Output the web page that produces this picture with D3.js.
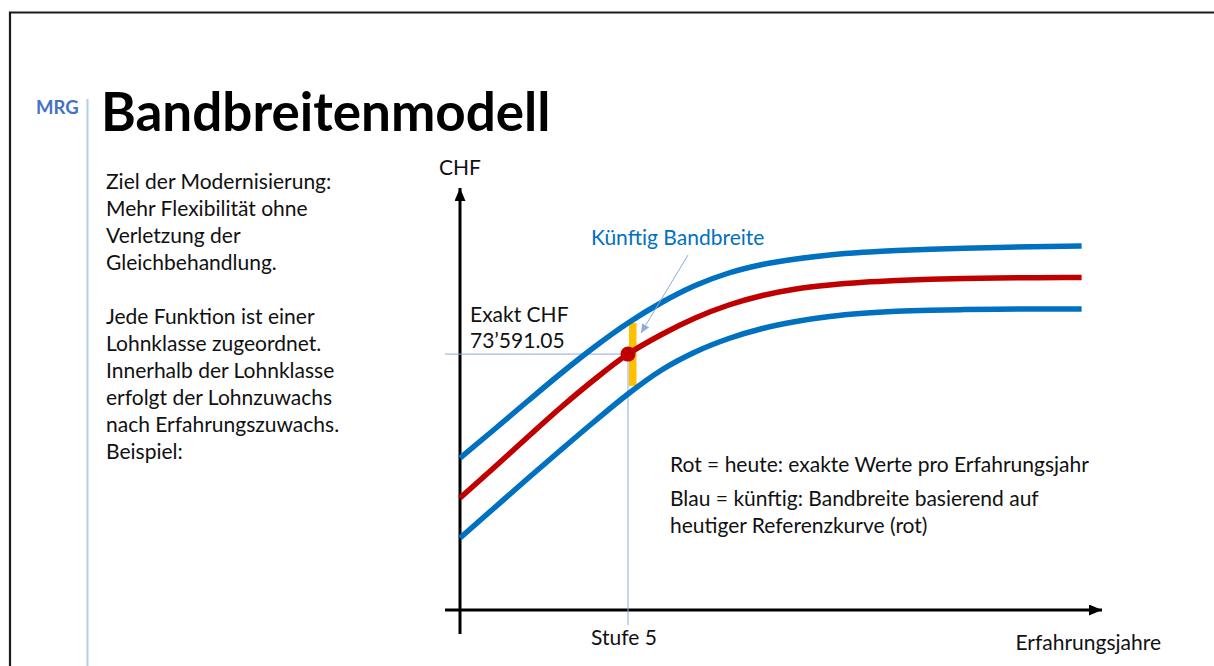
<!DOCTYPE html>
<html lang="de">
<head>
<meta charset="utf-8">
<title>Bandbreitenmodell</title>
<script src="https://cdn.jsdelivr.net/npm/d3@7"></script>
<style>
  html, body { margin: 0; padding: 0; background: #ffffff; }
  svg { display: block; }
  text { font-family: Lato, "Open Sans", sans-serif; fill: #111; }
</style>
</head>
<body>
<svg id="chart" width="1214" height="666"></svg>
<script>
// ---- data ----------------------------------------------------------------
// Erfahrungsjahre (Stufen) along the x axis
const years = [0, 1, 2, 3, 4, 5, 6, 7, 8, 9, 10, 11, 12, 13, 14, 15, 16, 17, 18, 18.5];
// Referenzkurve heute (rot), CHF
const redValues = [59200, 62200, 65250, 68250, 71050, 73591.05, 75550, 77200, 78500, 79450,
                   80100, 80500, 80770, 80950, 81070, 81150, 81200, 81230, 81250, 81250];
// Bandbreite künftig, obere Grenze (blau), CHF
const upperValues = [63200, 66000, 68850, 71650, 74300, 76700, 78750, 80450, 81700, 82550,
                     83100, 83500, 83770, 83950, 84080, 84180, 84260, 84320, 84370, 84400];
// Bandbreite künftig, untere Grenze (blau), CHF
const lowerValues = [55200, 58150, 61100, 64000, 66850, 69600, 72000, 73800, 75150, 76150,
                     76850, 77350, 77670, 77870, 77980, 78040, 78080, 78100, 78100, 78100];
// highlighted example
const exampleStep = 5;
const exampleValue = 73591.05;
const exampleLabel = ["Exakt CHF", "73\u2019591.05"];
const exampleStepLabel = "Stufe 5";

const introLines = [
  "Ziel der Modernisierung:",
  "Mehr Flexibilität ohne",
  "Verletzung der",
  "Gleichbehandlung.",
  "",
  "Jede Funktion ist einer",
  "Lohnklasse zugeordnet.",
  "Innerhalb der Lohnklasse",
  "erfolgt der Lohnzuwachs",
  "nach Erfahrungszuwachs.",
  "Beispiel:"
];
const legendLines = [
  "Rot = heute: exakte Werte pro Erfahrungsjahr",
  "Blau = künftig: Bandbreite basierend auf",
  "heutiger Referenzkurve (rot)"
];

// ---- setup ---------------------------------------------------------------
const BLUE = "#0070c0", RED = "#c00000", GOLD = "#ffc000", GUIDE = "#8eaadb";
const FS = "21px";
const svg = d3.select("#chart");

const x = d3.scaleLinear().domain([0, 20]).range([460, 1132]);
const y = d3.scaleLinear().domain([48000, 90000]).range([610, 190]);

const defs = svg.append("defs");
function arrowMarker(id, color, w, h) {
  defs.append("marker")
    .attr("id", id)
    .attr("viewBox", `0 0 ${w} ${h}`)
    .attr("refX", w).attr("refY", h / 2)
    .attr("markerWidth", w).attr("markerHeight", h)
    .attr("markerUnits", "userSpaceOnUse")
    .attr("orient", "auto")
    .append("path")
    .attr("d", `M0,0 L${w},${h / 2} L0,${h} Z`)
    .attr("fill", color);
}
arrowMarker("axisArrow", "#000", 13, 11);
arrowMarker("noteArrow", GUIDE, 9, 8);

// ---- slide frame ---------------------------------------------------------
svg.append("path")
  .attr("d", "M10,666 L10,12.5 L1214,12.5")
  .attr("fill", "none").attr("stroke", "#1a1a1a").attr("stroke-width", 2.2);

svg.append("line")
  .attr("x1", 87.5).attr("x2", 87.5).attr("y1", 99).attr("y2", 666)
  .attr("stroke", "#a9d0ec").attr("stroke-width", 2);

svg.append("text")
  .attr("x", 36).attr("y", 114)
  .style("font-size", "18.5px").style("font-weight", 700)
  .style("fill", "#4472c4")
  .text("MRG");

svg.append("text")
  .attr("x", 101).attr("y", 131)
  .style("font-size", "53px").style("font-weight", 700)
  .style("fill", "#000")
  .text("Bandbreitenmodell");

// ---- intro text ------------------------------------------------------------
svg.append("g").selectAll("text")
  .data(introLines)
  .join("text")
  .attr("x", 106)
  .attr("y", (d, i) => 189 + i * 27)
  .style("font-size", FS)
  .text(d => d);

// ---- axes ------------------------------------------------------------------
svg.append("line")
  .attr("x1", x(0)).attr("x2", x(0))
  .attr("y1", y(48000) + 24).attr("y2", 188)
  .attr("stroke", "#000").attr("stroke-width", 3)
  .attr("marker-end", "url(#axisArrow)");

svg.append("line")
  .attr("x1", x(0) - 15).attr("x2", 1102)
  .attr("y1", y(48000)).attr("y2", y(48000))
  .attr("stroke", "#000").attr("stroke-width", 3)
  .attr("marker-end", "url(#axisArrow)");

svg.append("text")
  .attr("x", x(0)).attr("y", 175)
  .attr("text-anchor", "middle")
  .style("font-size", FS)
  .text("CHF");

svg.append("text")
  .attr("x", 1161).attr("y", 650)
  .attr("text-anchor", "end")
  .style("font-size", FS)
  .text("Erfahrungsjahre");

// ---- example guides ----------------------------------------------------------
svg.append("line")
  .attr("x1", x(0) - 15).attr("x2", x(exampleStep))
  .attr("y1", y(exampleValue)).attr("y2", y(exampleValue))
  .attr("stroke", GUIDE).attr("stroke-width", 1);

svg.append("line")
  .attr("x1", x(exampleStep)).attr("x2", x(exampleStep))
  .attr("y1", y(exampleValue)).attr("y2", y(48000) + 15)
  .attr("stroke", GUIDE).attr("stroke-width", 1);

svg.append("text")
  .attr("x", x(exampleStep) - 4).attr("y", 645)
  .attr("text-anchor", "middle")
  .style("font-size", FS)
  .text(exampleStepLabel);

svg.append("g").selectAll("text")
  .data(exampleLabel)
  .join("text")
  .attr("x", 470)
  .attr("y", (d, i) => 322 + i * 26)
  .style("font-size", FS)
  .text(d => d);

// band width at the example step
const stepIdx = years.indexOf(exampleStep);
svg.append("rect")
  .attr("x", x(exampleStep) + 1)
  .attr("width", 7.5)
  .attr("y", y(upperValues[stepIdx]))
  .attr("height", y(lowerValues[stepIdx]) - y(upperValues[stepIdx]) - 8)
  .attr("fill", GOLD);

// ---- curves ------------------------------------------------------------------
const line = d3.line()
  .x((d, i) => x(years[i]))
  .y(d => y(d))
  .curve(d3.curveMonotoneX);

[[upperValues, BLUE], [lowerValues, BLUE], [redValues, RED]].forEach(([vals, col]) => {
  svg.append("path")
    .datum(vals)
    .attr("d", line)
    .attr("fill", "none")
    .attr("stroke", col)
    .attr("stroke-width", 5.5);
});

svg.append("circle")
  .attr("cx", x(exampleStep)).attr("cy", y(exampleValue))
  .attr("r", 7.5)
  .attr("fill", RED);

// ---- annotation ----------------------------------------------------------------
const noteX = 591, noteY = 245;
svg.append("text")
  .attr("x", noteX).attr("y", noteY)
  .style("font-size", FS)
  .style("fill", BLUE)
  .text("Künftig Bandbreite");

svg.append("line")
  .attr("x1", noteX + 97).attr("y1", noteY + 10)
  .attr("x2", x(exampleStep) + 13).attr("y2", y(upperValues[stepIdx]) + 10)
  .attr("stroke", GUIDE).attr("stroke-width", 1)
  .attr("marker-end", "url(#noteArrow)");

// ---- legend text ----------------------------------------------------------------
svg.append("g").selectAll("text")
  .data(legendLines)
  .join("text")
  .attr("x", 670)
  .attr("y", (d, i) => i === 0 ? 472 : 506 + (i - 1) * 27)
  .style("font-size", FS)
  .text(d => d);
</script>
</body>
</html>
